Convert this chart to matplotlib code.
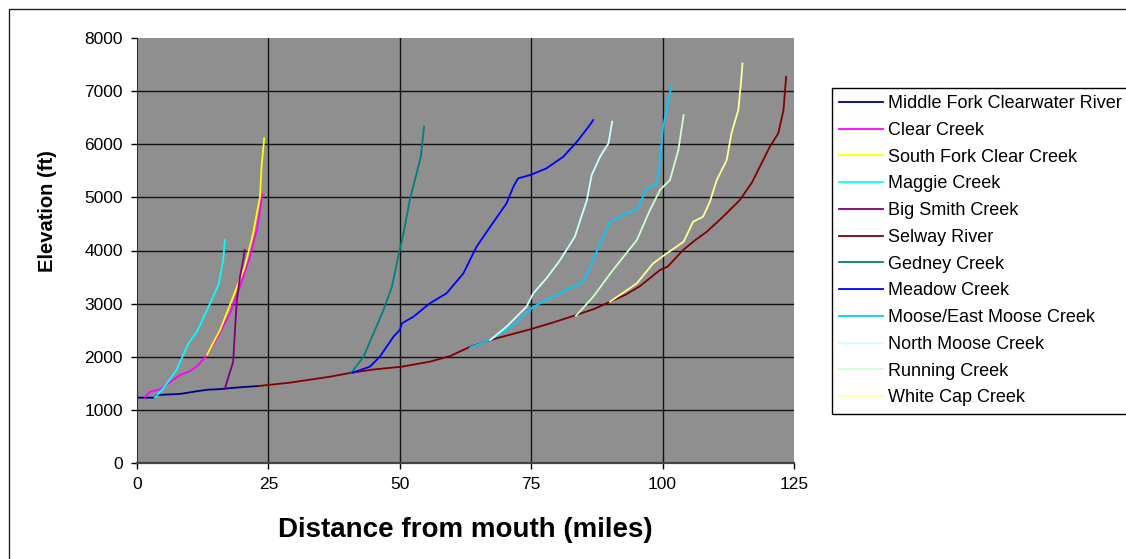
import matplotlib
matplotlib.use("Agg")
import matplotlib.pyplot as plt
from matplotlib.patches import Rectangle

plt.rcParams["font.family"] = ["Liberation Sans", "DejaVu Sans"]

# distance from mouth (miles) / elevation (ft)
mf_clearwater_d = [0, 3.4, 3.7, 8.2, 12, 13.5, 15.2, 19.6, 23.1]
mf_clearwater_e = [1230, 1230, 1280, 1300, 1360, 1380, 1387, 1425, 1449]

clear_d = [1.5, 2.5, 4.4, 6, 8.2, 10.1, 11.5, 13.3, 15.2, 17.7, 19.6, 21.5, 22.8, 23.7, 23.9]
clear_e = [1248, 1340, 1387, 1500, 1656, 1732, 1830, 2033, 2347, 2817, 3318, 3883, 4385, 4950, 5050]

sf_clear_d = [13.3, 15.8, 18.3, 20.5, 22.1, 23.4, 23.7, 24.2]
sf_clear_e = [2033, 2503, 3130, 3694, 4323, 5012, 5577, 6111]

maggie_d = [3.4, 5, 7.5, 9.8, 11.4, 13.9, 15.5, 16.4, 16.7]
maggie_e = [1230, 1405, 1750, 2253, 2472, 3005, 3350, 3820, 4197]

big_smith_d = [16.7, 17.4, 18.3, 18.6, 19.0, 19.6, 20.2, 20.5]
big_smith_e = [1393, 1624, 1907, 2441, 3068, 3506, 3820, 4009]

selway_d = [23.1, 26, 29, 33, 36.7, 40.8, 45, 50.4, 55.7, 59.6, 63.4, 68.4, 74.8, 79, 83,
            87, 90, 93, 95.7, 99.5, 101, 103.9, 106, 108.4, 111.5, 114.7, 117, 118.5,
            120.4, 122, 123, 123.5]
selway_e = [1449, 1480, 1511, 1570, 1624, 1700, 1760, 1813, 1907, 2014, 2189, 2347, 2516, 2640, 2767,
            2900, 3036, 3170, 3330, 3632, 3700, 4009, 4180, 4353, 4636, 4950, 5280, 5577,
            5953, 6205, 6643, 7270]

gedney_d = [40.8, 43.1, 45, 46.9, 48.5, 49.7, 50.7, 51.9, 53.2, 54, 54.6]
gedney_e = [1700, 2001, 2441, 2880, 3318, 3883, 4323, 4950, 5452, 5765, 6329]

meadow_d = [41, 44.3, 46.2, 48.8, 50, 50.4, 52.6, 55.7, 58.9, 62.1, 64.6, 67.2, 70.3, 71.6,
            72.5, 74.8, 77.9, 81.1, 83.7, 85.9, 86.8]
meadow_e = [1700, 1813, 2001, 2378, 2503, 2629, 2754, 3005, 3194, 3570, 4071, 4447, 4887, 5200,
            5358, 5420, 5546, 5765, 6047, 6329, 6455]

moose_d = [63.4, 67.2, 71.6, 75.4, 77.3, 80.5, 84.9, 86.8, 88.1, 90, 93.2, 95.4, 96.7, 98.9,
           99.5, 100.1, 101.1, 101.7]
moose_e = [2177, 2315, 2597, 2942, 3036, 3194, 3412, 3820, 4134, 4541, 4699, 4793, 5138, 5264,
           5702, 6329, 6831, 7114]

n_moose_d = [67.2, 70.3, 74.1, 75.4, 77.9, 80.5, 83.3, 85.6, 86.5, 88.1, 89.7, 90.4]
n_moose_e = [2315, 2566, 2942, 3194, 3476, 3820, 4259, 4950, 5420, 5765, 6017, 6424]

running_d = [83.5, 86.8, 90.3, 95.1, 97.6, 99.5, 101.4, 103, 104]
running_e = [2770, 3130, 3600, 4197, 4762, 5138, 5326, 5890, 6549]

white_cap_d = [90, 95.1, 98.2, 100.8, 104, 105.8, 107.7, 109, 110.3, 112.2, 113.1, 114.4, 114.9, 115.2]
white_cap_e = [3036, 3382, 3758, 3946, 4166, 4541, 4636, 4918, 5326, 5702, 6205, 6643, 7145, 7521]

series = [
    ("Middle Fork Clearwater River", mf_clearwater_d, mf_clearwater_e, "#000080"),
    ("Clear Creek", clear_d, clear_e, "#FF00FF"),
    ("South Fork Clear Creek", sf_clear_d, sf_clear_e, "#FFFF00"),
    ("Maggie Creek", maggie_d, maggie_e, "#00FFFF"),
    ("Big Smith Creek", big_smith_d, big_smith_e, "#800080"),
    ("Selway River", selway_d, selway_e, "#800000"),
    ("Gedney Creek", gedney_d, gedney_e, "#008080"),
    ("Meadow Creek", meadow_d, meadow_e, "#0000FF"),
    ("Moose/East Moose Creek", moose_d, moose_e, "#00CCFF"),
    ("North Moose Creek", n_moose_d, n_moose_e, "#CCFFFF"),
    ("Running Creek", running_d, running_e, "#CCFFCC"),
    ("White Cap Creek", white_cap_d, white_cap_e, "#FFFF99"),
]

fig = plt.figure(figsize=(11.26, 5.59), dpi=100)
fig.patch.set_facecolor("white")
ax = fig.add_axes([137 / 1126, 1 - 463 / 559, 657 / 1126, 425 / 559])
ax.set_facecolor("#8F8F8F")

for name, d, e, c in series:
    ax.plot(d, e, color=c, lw=1.3, label=name)

ax.set_xlim(0, 125)
ax.set_ylim(0, 8000)
ax.set_xticks([0, 25, 50, 75, 100, 125])
ax.set_yticks(range(0, 8001, 1000))
ax.grid(True, color="#111111", lw=1.0)
ax.set_axisbelow(True)
# no gridline on the plot border
ax.yaxis.get_gridlines()[0].set_visible(False)
ax.yaxis.get_gridlines()[-1].set_visible(False)
ax.xaxis.get_gridlines()[0].set_visible(False)
ax.xaxis.get_gridlines()[-1].set_visible(False)

ax.spines["top"].set_visible(False)
ax.spines["right"].set_visible(False)
ax.spines["left"].set_color("#333333")
ax.spines["bottom"].set_color("#444444")
ax.spines["bottom"].set_linewidth(1.6)
ax.tick_params(direction="out", length=4, width=1, colors="black", labelsize=12.5, pad=6)

ax.set_xlabel("Distance from mouth (miles)", fontsize=20, fontweight="bold", labelpad=18)
ax.set_ylabel("Elevation (ft)", fontsize=14.5, fontweight="bold", labelpad=20)
ax.yaxis.label.set_y(0.593)

leg = fig.legend(loc="upper left", bbox_to_anchor=(832 / 1126, 1 - 88 / 559),
                 fontsize=13, frameon=True, fancybox=False, framealpha=1,
                 edgecolor="black", handlelength=2.4, handletextpad=0.3,
                 labelspacing=0.54, borderpad=0.4, borderaxespad=0)
leg.get_frame().set_linewidth(1.0)

# outer chart border
fig.patches.append(Rectangle((9 / 1126, -0.1), 1.2, 1.1 - 9 / 559, transform=fig.transFigure,
                             fill=False, edgecolor="#222222", lw=1.0))

fig.savefig("out.png", dpi=100)
